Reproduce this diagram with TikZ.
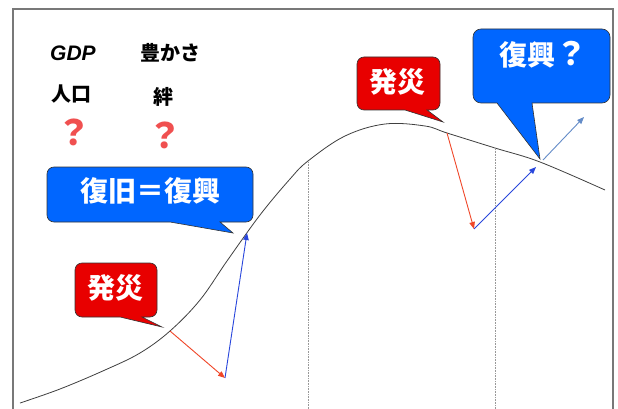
\documentclass[tikz,border=0pt]{standalone}
\usepackage{fontspec}
\newfontfamily\cjk{Noto Sans CJK JP}
\newfontfamily\lsans{Liberation Sans}
\usetikzlibrary{arrows.meta}
\definecolor{cbblue}{RGB}{0,102,255}
\definecolor{cbred}{RGB}{232,0,0}
\definecolor{arred}{RGB}{240,70,40}
\definecolor{arblue}{RGB}{40,70,220}
\definecolor{arlight}{RGB}{100,140,200}
\definecolor{qred}{RGB}{240,80,80}
\definecolor{framegray}{RGB}{120,120,120}
\tikzset{
  bubble/.style={draw=black!80, line width=0.6pt, line join=miter},
  bubbletext/.style={text=white, font=\cjk\bfseries\fontsize{28}{30}\selectfont, inner sep=0pt},
  label/.style={text=black, font=\cjk\bfseries\fontsize{20}{22}\selectfont, inner sep=0pt},
  qmark/.style={text=qred, font=\cjk\bfseries\fontsize{35}{38}\selectfont, inner sep=0pt},
  arrowtip/.style={-{Triangle[length=7pt,width=5.5pt]}, line width=0.9pt},
  guide/.style={draw=gray!80, densely dotted, line width=0.6pt}
}
\begin{document}
\begin{tikzpicture}[x=1pt,y=-1pt]
\useasboundingbox (0,0) rectangle (618,409);
\fill[white] (0,0) rectangle (618,409);
% frame
\draw[framegray, line width=1.2pt] (13,409) -- (13,9) -- (613,9) -- (613,409);
% guides
\draw[guide] (308,162) -- (308,409);
\draw[guide] (495,149) -- (495,409);
% curve
\draw[black!75, line width=0.8pt] plot[smooth, tension=0.6] coordinates {
 (20,403) (60,389) (105,370) (140,353) (170,331) (200,300) (227,261) (260,215) (290,179) (308,161) (345,136) (385,124) (425,126) (447,133) (495,148) (540,162) (605,190)};
% coordinates
\coordinate (d1) at (170,331);
\coordinate (b1) at (225,378);
\coordinate (r1) at (247,233);
\coordinate (d2) at (447,133);
\coordinate (b2) at (474,229);
\coordinate (r2) at (536,167);
\coordinate (l0) at (543,160);
\coordinate (l1) at (584,117);
% arrows
\draw[arrowtip, arred] (d1) -- (b1);
\draw[arrowtip, arblue] (b1) -- (r1);
\draw[arrowtip, arred] (d2) -- (b2);
\draw[arrowtip, arblue] (b2) -- (r2);
\draw[arrowtip, arlight] (l0) -- (l1);
% callouts
\filldraw[bubble, fill=cbblue, rounded corners=7pt] (47,167) -- (253,167) -- (253,222) [sharp corners] -- (220,222) -- (233,233) -- (170,222) [rounded corners=7pt] -- (47,222) -- cycle;
\filldraw[bubble, fill=cbred, rounded corners=7pt] (75,263) -- (157,263) -- (157,317) [sharp corners] -- (142,317) -- (162,327) -- (120,317) [rounded corners=7pt] -- (75,317) -- cycle;
\filldraw[bubble, fill=cbred, rounded corners=7pt] (357,57) -- (440,57) -- (440,110) [sharp corners] -- (427,110) -- (443,122) -- (405,110) [rounded corners=7pt] -- (357,110) -- cycle;
\filldraw[bubble, fill=cbblue, rounded corners=8pt] (473,29) -- (610,29) -- (610,103) [sharp corners] -- (532,103) -- (540,159) -- (497,103) [rounded corners=8pt] -- (473,103) -- cycle;
% texts
\node[bubbletext] (t1) at (150,191) {復旧＝復興};
\node[bubbletext] (t2) at (115,288) {発災};
\node[bubbletext] (t3) at (397,82) {発災};
\node[bubbletext, anchor=base] (t4) at (543,66) {復興{\fontsize{32}{34}\selectfont ？}};
\node[text=black, font=\lsans\bfseries\itshape\fontsize{21}{24}\selectfont, inner sep=0pt] (gdp) at (73,53) {GDP};
\node[label] (yut) at (170,53) {豊かさ};
\node[label] (jin) at (71,94) {人口};
\node[label] (kiz) at (163,97) {絆};
\node[qmark, anchor=base] (q1) at (74,146) {？};
\node[qmark, anchor=base] (q2) at (165,148) {？};
\end{tikzpicture}
\end{document}
